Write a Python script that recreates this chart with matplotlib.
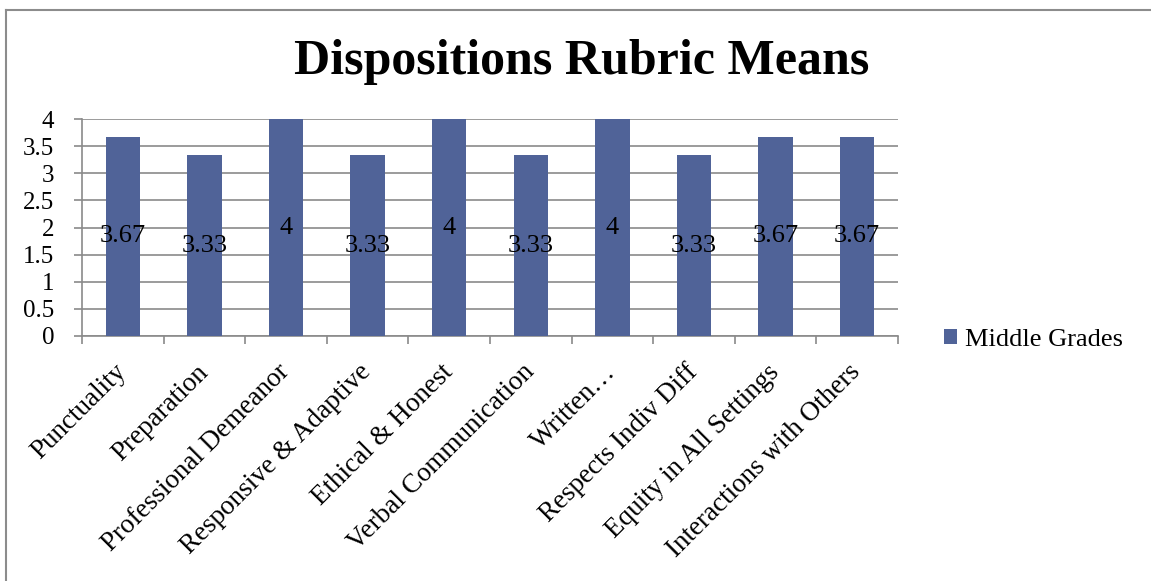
import matplotlib
matplotlib.use("Agg")
import matplotlib.pyplot as plt
import matplotlib.transforms as mtransforms
from matplotlib.lines import Line2D
import numpy as np

# Dữ liệu
categories = ["Punctuality", "Preparation", "Professional Demeanor",
              "Responsive & Adaptive", "Ethical & Honest", "Verbal Communication",
              "Written…", "Respects Indiv Diff", "Equity in All Settings",
              "Interactions with Others"]
middle_grades = [3.67, 3.33, 4, 3.33, 4, 3.33, 4, 3.33, 3.67, 3.67]
value_labels = ["3.67", "3.33", "4", "3.33", "4", "3.33", "4", "3.33", "3.67", "3.67"]
y_ticks = [0, 0.5, 1, 1.5, 2, 2.5, 3, 3.5, 4]

plt.rcParams["font.family"] = ["Liberation Serif", "DejaVu Serif"]

bar_color = "#506398"
grid_color = "#8A8A8A"

fig = plt.figure(figsize=(11.51, 5.81), dpi=100)
ax = fig.add_axes([82 / 1151, 1 - 336 / 581, 816 / 1151, 217 / 581])

x = np.arange(len(categories))
ax.bar(x, middle_grades, width=0.42, color=bar_color, zorder=3,
       label="Middle Grades")

# Nhãn giá trị ở giữa cột
for xi, v, lab in zip(x, middle_grades, value_labels):
    ax.text(xi, v / 2, lab, ha="center", va="center", fontsize=19,
            color="black", zorder=4)

ax.set_xlim(-0.5, len(categories) - 0.5)
ax.set_ylim(0, 4)
ax.set_yticks(y_ticks)
ax.set_yticklabels([f"{t:g}" for t in y_ticks], fontsize=18)
ax.yaxis.grid(True, color=grid_color, linewidth=1.2, zorder=0)
ax.set_axisbelow(True)

# Trục x: vạch ở ranh giới, nhãn ở giữa
ax.set_xticks(np.arange(len(categories) + 1) - 0.5)
ax.set_xticklabels([])
ax.set_xticks(x, minor=True)
ax.set_xticklabels(categories, minor=True, rotation=45, ha="right",
                   va="top", rotation_mode="anchor", fontsize=19.5)
ax.tick_params(axis="x", which="major", length=6, width=1.2, color=grid_color)
ax.tick_params(axis="x", which="minor", length=0, pad=17)
ax.tick_params(axis="y", length=6, width=1.2, color=grid_color, pad=14)

# Dịch nhãn trục x sang trái một chút
shift = mtransforms.ScaledTranslation(-9 / 100, 0, fig.dpi_scale_trans)
for lab in ax.get_xticklabels(minor=True):
    lab.set_transform(lab.get_transform() + shift)

for side in ["top", "right"]:
    ax.spines[side].set_visible(False)
for side in ["left", "bottom"]:
    ax.spines[side].set_color(grid_color)
    ax.spines[side].set_linewidth(1.2)

fig.text(582 / 1151, 1 - 62 / 581, "Dispositions Rubric Means",
         ha="center", va="center", fontsize=36, fontweight="bold")

ax.legend(loc="center left", bbox_to_anchor=(933 / 1151, 1 - 340 / 581),
          bbox_transform=fig.transFigure, frameon=False, fontsize=19,
          handlelength=0.5, handleheight=0.5, handletextpad=0.3,
          borderaxespad=0)

# Khung ngoài (chỉ thấy cạnh trái và trên)
fig.add_artist(Line2D([5.5 / 1151, 5.5 / 1151], [0, 1 - 9.5 / 581],
                      transform=fig.transFigure, color="#8C8C8C", linewidth=1.5))
fig.add_artist(Line2D([5.5 / 1151, 1], [1 - 9.5 / 581, 1 - 9.5 / 581],
                      transform=fig.transFigure, color="#8C8C8C", linewidth=1.5))

plt.savefig("out.png", dpi=100)
plt.close()
